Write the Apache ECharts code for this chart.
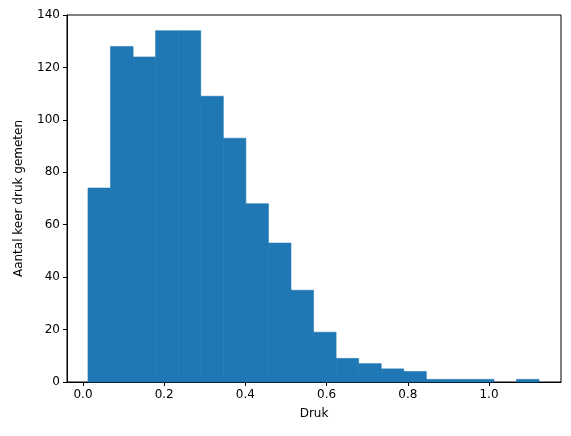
<!DOCTYPE html>
<html>
<head>
<meta charset="utf-8">
<script src="https://cdn.jsdelivr.net/npm/echarts@6/dist/echarts.min.js"></script>
<style>html,body{margin:0;padding:0;background:#fff}#chart{width:571px;height:436px}</style>
</head>
<body>
<div id="chart"></div>
<script>
// histogram: 20 bins, start and width
var binStart = 0.0123
var binWidth = 0.05555
var counts = [74, 128, 124, 134, 134, 109, 93, 68, 53, 35, 19, 9, 7, 5, 4, 1, 1, 1, 0, 1]
var xTicks = [0, 0.2, 0.4, 0.6, 0.8, 1.0]

var bins = counts.map(function (c, i) {
    return [binStart + i * binWidth, binStart + (i + 1) * binWidth, c]
})

var myChart = echarts.init(document.getElementById('chart'))
var font = 'DejaVu Sans'
var lineStyle = { color: '#000', width: 1 }

var option = {
    animation: false,
    backgroundColor: '#ffffff',
    textStyle: { fontFamily: font },
    grid: { left: 67, right: 10, top: 15, bottom: 54, show: true, borderColor: '#000', borderWidth: 1 },
    xAxis: {
        type: 'value',
        min: -0.0394,
        max: 1.1773,
        name: 'Druk',
        nameLocation: 'middle',
        nameGap: 26,
        nameTextStyle: { color: '#000', fontSize: 12, fontFamily: font },
        axisLine: { onZero: false, lineStyle: lineStyle },
        axisTick: { show: true, length: 4, customValues: xTicks, lineStyle: lineStyle },
        axisLabel: { customValues: xTicks, color: '#000', fontSize: 12, margin: 7,
            formatter: function (v) { return v.toFixed(1) } },
        splitLine: { show: false }
    },
    yAxis: {
        type: 'value',
        min: 0,
        max: 140,
        interval: 20,
        name: 'Aantal keer druk gemeten',
        nameLocation: 'middle',
        nameGap: 42,
        nameTextStyle: { color: '#000', fontSize: 12, fontFamily: font },
        axisLine: { show: true, onZero: false, lineStyle: lineStyle },
        axisTick: { show: true, length: 4, lineStyle: lineStyle },
        axisLabel: { color: '#000', fontSize: 12, margin: 7 },
        splitLine: { show: false }
    },
    series: [{
        type: 'custom',
        data: bins,
        renderItem: function (params, api) {
            if (!api.value(2)) return null
            var p0 = api.coord([api.value(0), api.value(2)])
            var p1 = api.coord([api.value(1), 0])
            return {
                type: 'rect',
                shape: { x: p0[0], y: p0[1], width: p1[0] - p0[0], height: p1[1] - p0[1] },
                style: { fill: '#1f77b4', stroke: '#1f77b4', lineWidth: 0.6 }
            }
        }
    }]
}

myChart.setOption(option)
</script>
</body>
</html>
